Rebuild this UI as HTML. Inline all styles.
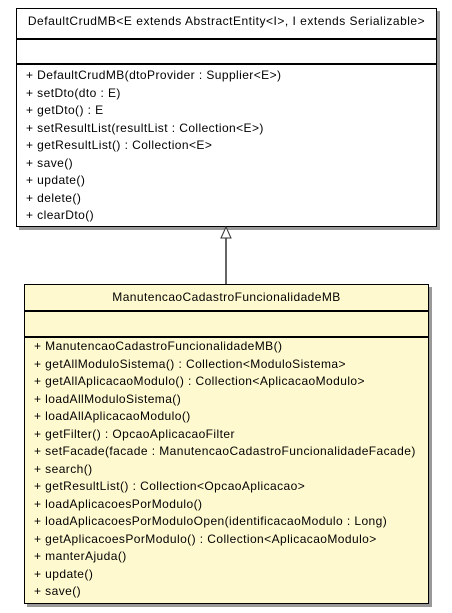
<!DOCTYPE html>
<html><head><meta charset="utf-8"><style>
body{margin:0;width:452px;height:613px;background:#fff;position:relative;font-family:"Liberation Sans",Arial,sans-serif;font-size:12px;letter-spacing:0.42px;color:#000;overflow:hidden}
.box{position:absolute;border:1px solid #000;box-shadow:3px 3px 0 #999;box-sizing:border-box}
.hl{position:absolute;left:0;right:0;height:0;border-top:2px solid #000}
.t{position:absolute;white-space:nowrap;line-height:13px}
</style></head><body>
<div class="box" style="left:16px;top:8px;width:421px;height:219px;background:#fff">
 <div class="t" style="left:0;right:0;text-align:center;top:6px;letter-spacing:0.5px">DefaultCrudMB&lt;E extends AbstractEntity&lt;I&gt;, I extends Serializable&gt;</div>
 <div class="hl" style="top:29px"></div>
 <div class="hl" style="top:54px"></div>
 <div class="t" style="left:9px;top:58px;line-height:17.5px">+ DefaultCrudMB(dtoProvider : Supplier&lt;E&gt;)<br>+ setDto(dto : E)<br>+ getDto() : E<br>+ setResultList(resultList : Collection&lt;E&gt;)<br>+ getResultList() : Collection&lt;E&gt;<br>+ save()<br>+ update()<br>+ delete()<br>+ clearDto()</div>
</div>
<svg style="position:absolute;left:0;top:0" width="452" height="613">
 <line x1="226" y1="238" x2="226" y2="284" stroke="#333" stroke-width="1.5"/>
 <polygon points="226,227 221,238 231,238" fill="#fff" stroke="#333" stroke-width="1"/>
</svg>
<div class="box" style="left:24px;top:284px;width:405px;height:320px;background:#fff9cf">
 <div class="t" style="left:0;right:0;text-align:center;top:6px">ManutencaoCadastroFuncionalidadeMB</div>
 <div class="hl" style="top:25px"></div>
 <div class="hl" style="top:51px"></div>
 <div class="t" style="left:9px;top:53px;line-height:17.5px">+ ManutencaoCadastroFuncionalidadeMB()<br>+ getAllModuloSistema() : Collection&lt;ModuloSistema&gt;<br>+ getAllAplicacaoModulo() : Collection&lt;AplicacaoModulo&gt;<br>+ loadAllModuloSistema()<br>+ loadAllAplicacaoModulo()<br>+ getFilter() : OpcaoAplicacaoFilter<br>+ setFacade(facade : ManutencaoCadastroFuncionalidadeFacade)<br>+ search()<br>+ getResultList() : Collection&lt;OpcaoAplicacao&gt;<br>+ loadAplicacoesPorModulo()<br>+ loadAplicacoesPorModuloOpen(identificacaoModulo : Long)<br>+ getAplicacoesPorModulo() : Collection&lt;AplicacaoModulo&gt;<br>+ manterAjuda()<br>+ update()<br>+ save()</div>
</div>
</body></html>
